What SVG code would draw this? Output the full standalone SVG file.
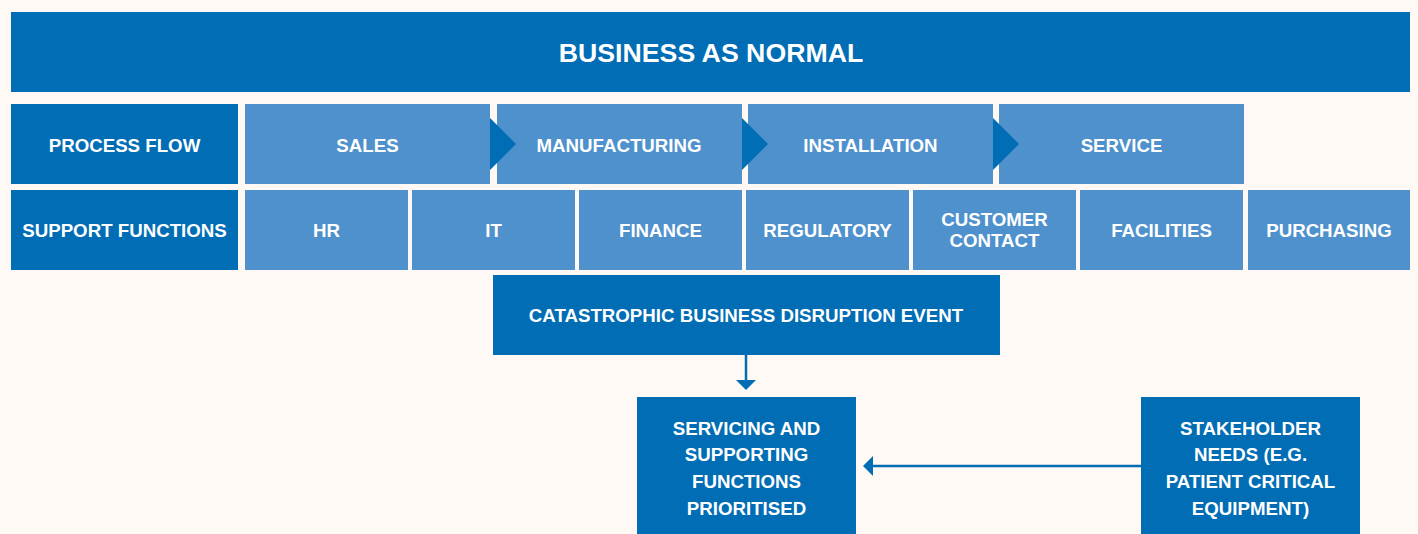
<svg xmlns="http://www.w3.org/2000/svg" width="1418" height="534" viewBox="0 0 1418 534">
<defs>
<style>
.dark{fill:#006db5}
.light{fill:#4e91cd}
text{font-family:"Liberation Sans",Arial,sans-serif;font-weight:bold;fill:#ffffff;text-anchor:middle;font-size:18.7px}
.title{font-size:26.7px}
.conn{stroke:#006db5;stroke-width:2.5;fill:none}
.head{fill:#006db5}
</style>
</defs>
<rect width="1418" height="534" fill="#fef9f4"/>
<g id="business-as-normal"><rect class="dark" x="11" y="12" width="1399" height="80"/><text class="title" x="711" y="62">BUSINESS AS NORMAL</text></g>
<g id="process-flow"><rect class="dark" x="11" y="104" width="227" height="80"/><text x="124.5" y="152">PROCESS FLOW</text></g>
<g id="sales"><rect class="light" x="245" y="104" width="245" height="80"/><text x="367.5" y="152">SALES</text></g>
<g id="manufacturing"><rect class="light" x="497" y="104" width="245" height="80"/><text x="619" y="152">MANUFACTURING</text></g>
<g id="installation"><rect class="light" x="748" y="104" width="245" height="80"/><text x="870.5" y="152">INSTALLATION</text></g>
<g id="service"><rect class="light" x="999" y="104" width="245" height="80"/><text x="1121.5" y="152">SERVICE</text></g>
<g id="flow-arrows">
<polygon class="head" points="490,118 516,144 490,170"/>
<polygon class="head" points="742,118 768,144 742,170"/>
<polygon class="head" points="993,118 1019,144 993,170"/>
</g>
<g id="support-functions"><rect class="dark" x="11" y="190" width="227" height="80"/><text x="124.5" y="237">SUPPORT FUNCTIONS</text></g>
<g id="hr"><rect class="light" x="245" y="190" width="163" height="80"/><text x="326.5" y="237">HR</text></g>
<g id="it"><rect class="light" x="412" y="190" width="163" height="80"/><text x="493.5" y="237">IT</text></g>
<g id="finance"><rect class="light" x="579" y="190" width="163" height="80"/><text x="660.5" y="237">FINANCE</text></g>
<g id="regulatory"><rect class="light" x="746" y="190" width="163" height="80"/><text x="827.5" y="237">REGULATORY</text></g>
<g id="customer-contact"><rect class="light" x="913" y="190" width="163" height="80"/><text x="994.5" y="226">CUSTOMER</text><text x="994.5" y="247">CONTACT</text></g>
<g id="facilities"><rect class="light" x="1080" y="190" width="163" height="80"/><text x="1161.5" y="237">FACILITIES</text></g>
<g id="purchasing"><rect class="light" x="1248" y="190" width="162" height="80"/><text x="1329" y="237">PURCHASING</text></g>
<g id="catastrophic-event"><rect class="dark" x="493" y="275" width="507" height="80"/><text x="746" y="322">CATASTROPHIC BUSINESS DISRUPTION EVENT</text></g>
<g id="servicing-prioritised"><rect class="dark" x="637" y="397" width="219" height="137"/><text x="746.5" y="435">SERVICING AND</text><text x="746.5" y="461">SUPPORTING</text><text x="746.5" y="488">FUNCTIONS</text><text x="746.5" y="515">PRIORITISED</text></g>
<g id="stakeholder-needs"><rect class="dark" x="1141" y="397" width="219" height="137"/><text x="1250.5" y="435">STAKEHOLDER</text><text x="1250.5" y="461">NEEDS (E.G.</text><text x="1250.5" y="488">PATIENT CRITICAL</text><text x="1250.5" y="515">EQUIPMENT)</text></g>
<g id="connectors">
<line class="conn" x1="746" y1="355" x2="746" y2="381"/>
<polygon class="head" points="736,380 756,380 746,390"/>
<line class="conn" x1="1141" y1="466" x2="872" y2="466"/>
<polygon class="head" points="873,456 873,476 863,466"/>
</g>
</svg>
